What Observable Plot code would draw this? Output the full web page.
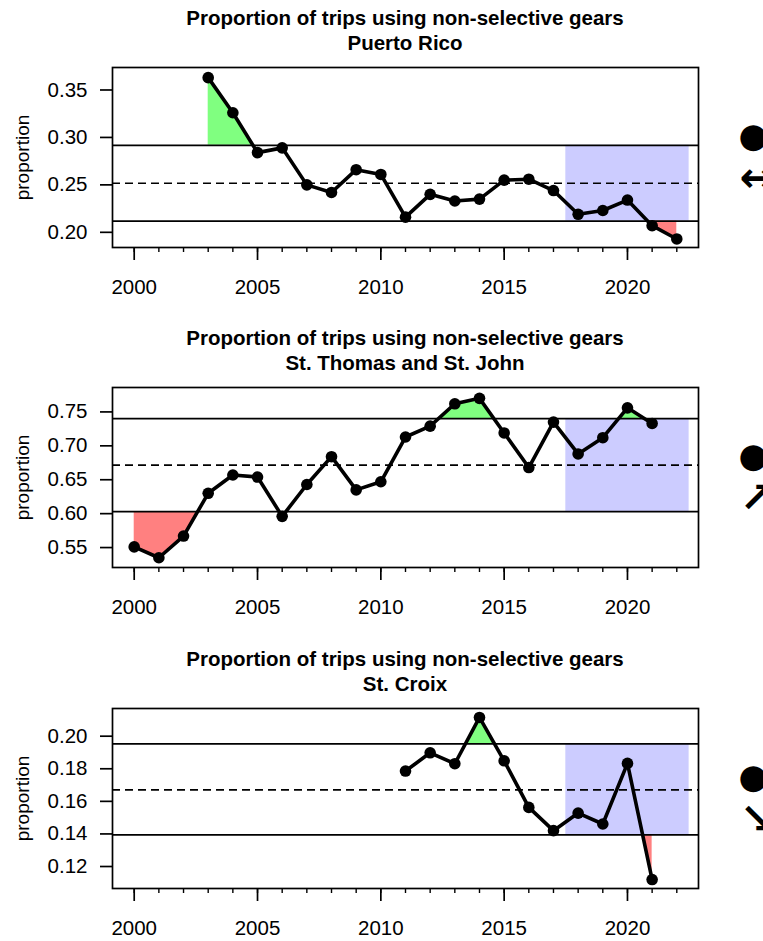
<!DOCTYPE html>
<html><head><meta charset="utf-8">
<script src="https://cdn.jsdelivr.net/npm/d3@7"></script>
<script src="https://cdn.jsdelivr.net/npm/@observablehq/plot@0.6"></script>
<style>
body{margin:0;background:#fff;overflow:hidden;font-family:"Liberation Sans",Arial,sans-serif}
.panel{position:relative;width:763px;overflow:hidden}
.panel svg{display:block}
.title{position:absolute;left:102px;width:606px;top:5px;text-align:center;font-weight:bold;font-size:20.5px;line-height:25px;color:#000}
</style></head><body><div id="root"></div><script>
// ---- data ----
const titleMain = "Proportion of trips using non-selective gears";
const regions = ["Puerto Rico", "St. Thomas and St. John", "St. Croix"];

const prYears = [2003,2004,2005,2006,2007,2008,2009,2010,2011,2012,2013,2014,2015,2016,2017,2018,2019,2020,2021,2022];
const prValues = [0.363,0.326,0.284,0.289,0.250,0.242,0.266,0.261,0.216,0.240,0.233,0.235,0.255,0.256,0.244,0.219,0.223,0.234,0.207,0.193];
const prBands = [0.2118, 0.2517, 0.2917]; // lower, mean, upper
const prDomain = [0.184, 0.3737];
const prYTicks = [0.20, 0.25, 0.30, 0.35];
const prIcon = "↔";

const sttYears = [2000,2001,2002,2003,2004,2005,2006,2007,2008,2009,2010,2011,2012,2013,2014,2015,2016,2017,2018,2019,2020,2021];
const sttValues = [0.551,0.535,0.567,0.630,0.657,0.654,0.596,0.643,0.684,0.635,0.647,0.713,0.729,0.762,0.770,0.719,0.668,0.735,0.688,0.712,0.756,0.733];
const sttBands = [0.603, 0.6715, 0.740];
const sttDomain = [0.5206, 0.786];
const sttYTicks = [0.55, 0.60, 0.65, 0.70, 0.75];
const sttIcon = "↗";

const stxYears = [2011,2012,2013,2014,2015,2016,2017,2018,2019,2020,2021];
const stxValues = [0.1786,0.1898,0.1831,0.2115,0.1849,0.1563,0.1420,0.1528,0.1461,0.1833,0.1120];
const stxBands = [0.1394, 0.1670, 0.1953];
const stxDomain = [0.1065, 0.217];
const stxYTicks = [0.12, 0.14, 0.16, 0.18, 0.20];
const stxIcon = "↘";

const xDomain = [1999.12, 2022.88];
const xMajorTicks = [2000, 2005, 2010, 2015, 2020];
const xMinorTicks = [2000,2001,2002,2003,2004,2005,2006,2007,2008,2009,2010,2011,2012,2013,2014,2015,2016,2017,2018,2019,2020,2021,2022];
const recentWindow = [2018, 2022];

// ---- helpers ----
function bandArea(years, values, thr, above) {
  const out = [];
  for (let i = 0; i < years.length; i++) {
    const v = values[i];
    if (i > 0) {
      const p = values[i-1];
      if ((p - thr) * (v - thr) < 0) {
        const t = (thr - p) / (v - p);
        out.push({x: years[i-1] + t * (years[i] - years[i-1]), y2: thr});
      }
    }
    out.push({x: years[i], y2: above ? Math.max(v, thr) : Math.min(v, thr)});
  }
  return out;
}

function panel(region, years, values, bands, domain, yTicks, icon, h) {
  const data = years.map((x, i) => ({x, y: values[i]}));
  const [lower, mean, upper] = bands;
  const svg = Plot.plot({
    width: 763, height: h,
    marginLeft: 112, marginRight: 65, marginTop: 67, marginBottom: h - 67 - 180,
    style: {fontFamily: "Liberation Sans, Arial, sans-serif", fontSize: "20.5px", color: "#000", background: "#fff", overflow: "visible"},
    x: {domain: xDomain, label: null},
    y: {domain: domain, label: null},
    marks: [
      Plot.rect([recentWindow], {x1: d => d[0] - 0.5, x2: d => d[1] + 0.5, y1: lower, y2: upper, fill: "#ccccff"}),
      Plot.areaY(bandArea(years, values, upper, true), {x: "x", y1: upper, y2: "y2", fill: "#80ff80"}),
      Plot.areaY(bandArea(years, values, lower, false), {x: "x", y1: lower, y2: "y2", fill: "#ff8080"}),
      Plot.ruleY([lower, upper], {stroke: "#000", strokeWidth: 1.7}),
      Plot.ruleY([mean], {stroke: "#000", strokeWidth: 1.7, strokeDasharray: "8,5"}),
      Plot.line(data, {x: "x", y: "y", stroke: "#000", strokeWidth: 3.6}),
      Plot.dot(data, {x: "x", y: "y", r: 5.8, fill: "#000"}),
      Plot.frame({stroke: "#000", strokeWidth: 1.7}),
      Plot.axisY({ticks: yTicks, tickSize: 12, tickPadding: 13, tickFormat: d3.format(".2f"), label: null, strokeWidth: 1.7}),
      Plot.axisX({ticks: xMinorTicks, tickSize: 5, tickFormat: () => "", label: null, strokeWidth: 1.4}),
      Plot.axisX({ticks: xMajorTicks, tickSize: 13, tickPadding: 19, tickFormat: d => String(d), label: null, strokeWidth: 1.7}),
      Plot.text(["proportion"], {text: d => d, frameAnchor: "left", textAnchor: "middle", dx: -90, rotate: -90, fontSize: 19}),
      Plot.text(["●"], {text: d => d, frameAnchor: "right", textAnchor: "start", dx: 40, dy: -21, fontSize: 34, fontFamily: "DejaVu Sans"}),
      Plot.text([icon], {text: d => d, frameAnchor: "right", textAnchor: "start", dx: 41, dy: 21, fontSize: 42, fontWeight: "bold", fontFamily: "DejaVu Sans"})
    ]
  });
  const div = document.createElement("div");
  div.className = "panel";
  div.style.height = h + "px";
  div.appendChild(svg);
  const t = document.createElement("div");
  t.className = "title";
  t.innerHTML = titleMain + "<br>" + region;
  div.appendChild(t);
  document.getElementById("root").appendChild(div);
}

panel(regions[0], prYears, prValues, prBands, prDomain, prYTicks, prIcon, 320);
panel(regions[1], sttYears, sttValues, sttBands, sttDomain, sttYTicks, sttIcon, 321);
panel(regions[2], stxYears, stxValues, stxBands, stxDomain, stxYTicks, stxIcon, 300);
</script></body></html>
